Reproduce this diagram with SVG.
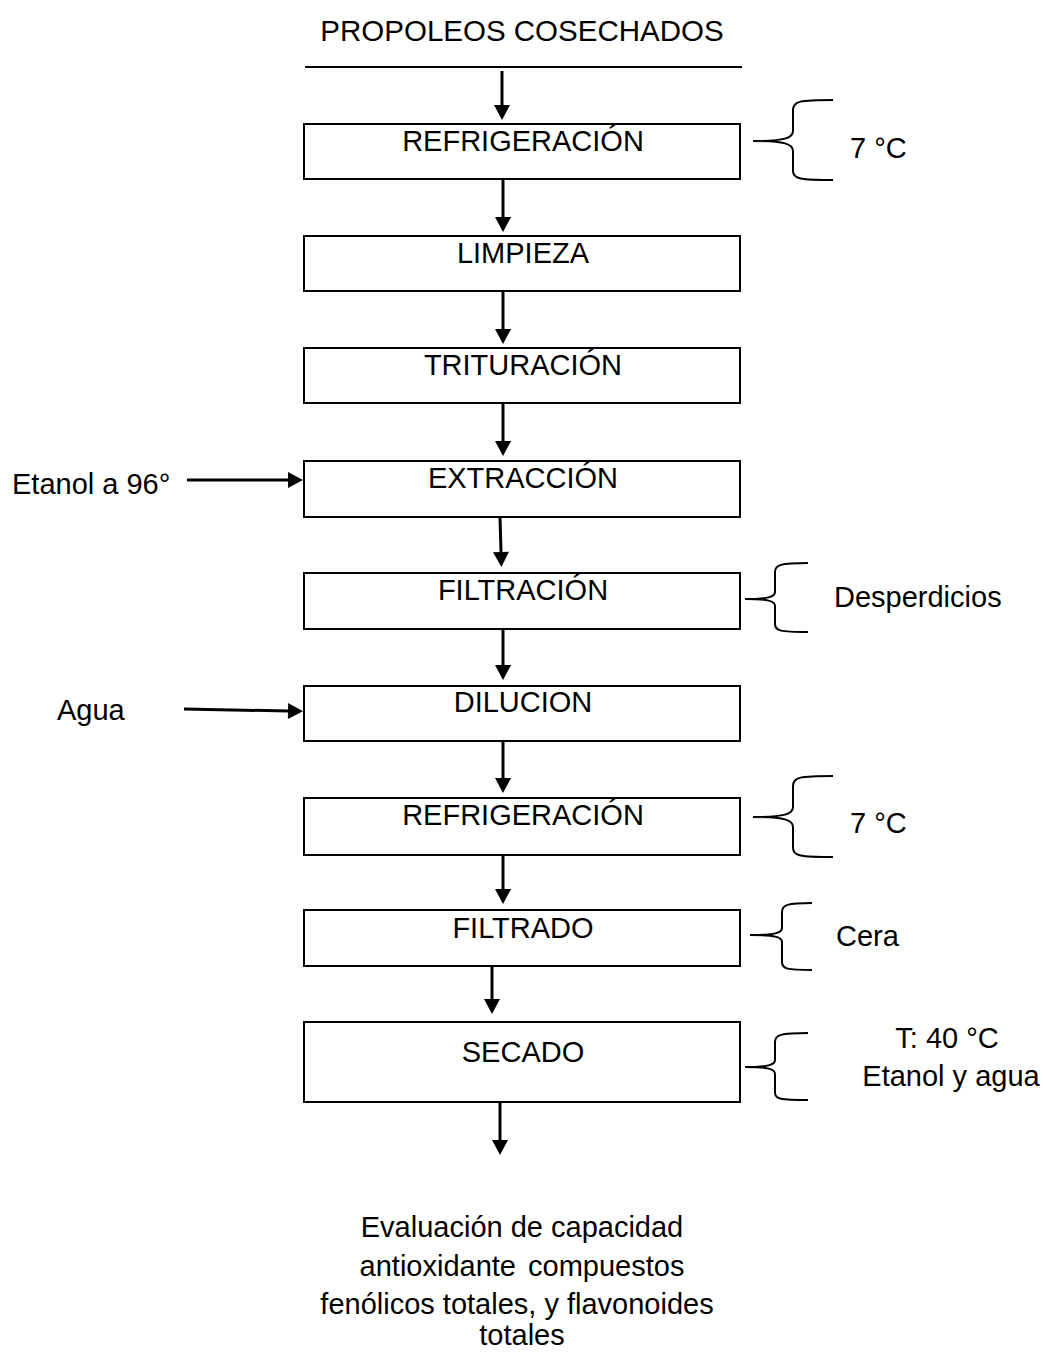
<svg xmlns="http://www.w3.org/2000/svg" width="1043" height="1353" viewBox="0 0 1043 1353">
<style>
text{font-family:"Liberation Sans",Arial,sans-serif;font-size:29px;fill:#000}
.c{text-anchor:middle}
.box{fill:#fff;stroke:#000;stroke-width:2}
.arr{stroke:#000;stroke-width:3;fill:none;marker-end:url(#ah)}
.br{stroke:#000;stroke-width:2;fill:none}
</style>
<defs>
<marker id="ah" markerUnits="userSpaceOnUse" markerWidth="16" markerHeight="17" viewBox="0 -8.5 15 17" refX="0" refY="0" orient="auto"><path d="M0,-8 L15,0 L0,8 z" fill="#000"/></marker>
</defs>
<rect width="1043" height="1353" fill="#fff"/>
<g id="title">
<text class="c" x="522" y="41" style="font-size:29.5px">PROPOLEOS COSECHADOS</text>
<line x1="305" y1="67" x2="742" y2="67" stroke="#000" stroke-width="2"/>
</g>
<g id="n1"><rect class="box" x="304" y="124" width="436" height="55"/><text class="c" x="523" y="151">REFRIGERACIÓN</text></g>
<g id="n2"><rect class="box" x="304" y="236" width="436" height="55"/><text class="c" x="523" y="263">LIMPIEZA</text></g>
<g id="n3"><rect class="box" x="304" y="348" width="436" height="55"/><text class="c" x="523" y="375">TRITURACIÓN</text></g>
<g id="n4"><rect class="box" x="304" y="461" width="436" height="56"/><text class="c" x="523" y="488">EXTRACCIÓN</text></g>
<g id="n5"><rect class="box" x="304" y="573" width="436" height="56"/><text class="c" x="523" y="600">FILTRACIÓN</text></g>
<g id="n6"><rect class="box" x="304" y="686" width="436" height="55"/><text class="c" x="523" y="712">DILUCION</text></g>
<g id="n7"><rect class="box" x="304" y="798" width="436" height="57"/><text class="c" x="523" y="825">REFRIGERACIÓN</text></g>
<g id="n8"><rect class="box" x="304" y="910" width="436" height="56"/><text class="c" x="523" y="938">FILTRADO</text></g>
<g id="n9"><rect class="box" x="304" y="1022" width="436" height="80"/><text class="c" x="523" y="1062">SECADO</text></g>
<g id="in1"><text x="12" y="494">Etanol a 96°</text></g>
<g id="in2"><text x="57" y="720">Agua</text></g>
<g id="out1"><text x="850" y="158">7 °C</text></g>
<g id="out2"><text x="834" y="607">Desperdicios</text></g>
<g id="out3"><text x="850" y="833">7 °C</text></g>
<g id="out4"><text x="836" y="946">Cera</text></g>
<g id="out5"><text class="c" x="947" y="1048">T: 40 °C</text><text class="c" x="951" y="1086">Etanol y agua</text></g>
<g id="result">
<text class="c" x="522" y="1237">Evaluación de capacidad</text>
<text class="c" x="522" y="1276" style="word-spacing:4px">antioxidante compuestos</text>
<text class="c" x="517" y="1314">fenólicos totales, y flavonoides</text>
<text class="c" x="522" y="1345">totales</text>
</g>
<g id="connectors">
<line class="arr" x1="502" y1="71" x2="502" y2="105"/>
<line class="arr" x1="503" y1="180" x2="503" y2="217"/>
<line class="arr" x1="503" y1="292" x2="503" y2="329"/>
<line class="arr" x1="503" y1="404" x2="503" y2="441"/>
<line class="arr" x1="500" y1="517" x2="501" y2="552"/>
<line class="arr" x1="503" y1="630" x2="503" y2="665"/>
<line class="arr" x1="503" y1="742" x2="503" y2="778"/>
<line class="arr" x1="503" y1="856" x2="503" y2="889"/>
<line class="arr" x1="492" y1="967" x2="492" y2="999"/>
<line class="arr" x1="500" y1="1103" x2="500" y2="1140"/>
<line class="arr" x1="187" y1="480" x2="288" y2="480"/>
<line class="arr" x1="184" y1="709" x2="288" y2="711"/>
<path class="br" d="M833,100 C800,100 793,101 793,110 L793,131 C793,138 785,141 753,141 C785,141 793,144 793,151 L793,171 C793,179 800,180 833,180"/>
<path class="br" d="M808,563 C780,563 775,565 775,572 L775,592 C775,597 768,599 745,599 C768,599 775,601 775,606 L775,624 C775,631 780,632 808,632"/>
<path class="br" d="M833,776 C800,776 793,777 793,786 L793,807 C793,814 785,817 753,817 C785,817 793,820 793,827 L793,848 C793,856 800,857 833,857"/>
<path class="br" d="M812,903 C787,903 782,905 782,912 L782,928 C782,933 775,935 750,935 C775,935 782,937 782,942 L782,962 C782,969 787,970 812,970"/>
<path class="br" d="M808,1033 C780,1033 775,1035 775,1042 L775,1060 C775,1065 768,1067 745,1067 C768,1067 775,1069 775,1074 L775,1093 C775,1099 780,1100 808,1100"/>
</g>
</svg>
